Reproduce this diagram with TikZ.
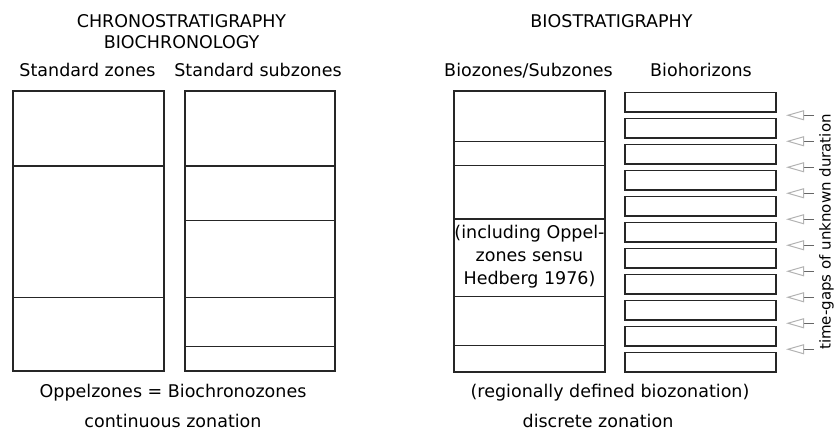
\documentclass[tikz,border=0pt]{standalone}
\usepackage{fontspec}
\setmainfont{DejaVu Sans}
\usetikzlibrary{arrows.meta}
\begin{document}
\begin{tikzpicture}
[   x=1pt, y=-1pt,
    zbox/.style={draw=black!85,line width=1.3pt,minimum width=#1,minimum height=280pt,inner sep=0pt,outer sep=0pt},
    hbox/.style={draw=black!85,line width=1.3pt,minimum width=151pt,minimum height=19.5pt,inner sep=0pt,outer sep=0pt},
    zline/.style={draw=black!85,line width=1.3pt},
    ttl/.style={font=\fontsize{17.5}{23}\selectfont,anchor=base,inner sep=0pt},
    gap/.style={draw=black!60,line width=1pt,-{Triangle[open,length=18pt,width=10pt,color=black!30]}},
]
\useasboundingbox (0,0) rectangle (835,432);

%%%%%%%%%%%%%%%%%%%% HEADINGS %%%%%%%%%%%%%%%%%%%%%%%%%%%%%%%%%%%
    \node[ttl] (chrono) at (181.5,27) {CHRONOSTRATIGRAPHY};
    \node[ttl] (biochrono) at (181.5,48.5) {BIOCHRONOLOGY};
    \node[ttl] (biostrat) at (611.5,27) {BIOSTRATIGRAPHY};
    \node[ttl] (tzones) at (87.5,76) {Standard zones};
    \node[ttl] (tsub) at (258,76) {Standard subzones};
    \node[ttl] (tbio) at (528.5,76) {Biozones/Subzones};
    \node[ttl] (thor) at (701,76) {Biohorizons};


%%%%%%%%%%%%%%%%%%%% CHRONOSTRATIGRAPHY %%%%%%%%%%%%%%%%%%%%%%%%%%%%%%%%%%%
    \node[zbox=151pt] (zones) at (88.5,231) {};
    \node[zbox=150pt] (subzones) at (260,231) {};
    \foreach \y in {166,297.5}
        \draw[zline] (zones.west |- 0,\y) -- (zones.east |- 0,\y);
    \foreach \y in {166,220.5,297.5,346.5}
        \draw[zline] (subzones.west |- 0,\y) -- (subzones.east |- 0,\y);


%%%%%%%%%%%%%%%%%%%% BIOSTRATIGRAPHY %%%%%%%%%%%%%%%%%%%%%%%%%%%%%%%%%%%
    \node[zbox=151pt,minimum height=281pt] (biozones) at (529.5,231.5) {};
    \foreach \y in {141.7,165.7,219,296.5,345.7}
        \draw[zline] (biozones.west |- 0,\y) -- (biozones.east |- 0,\y);
    \node[ttl,anchor=center,align=center] (oppel) at (529.5,257)
        {(including Oppel-\\zones sensu\\Hedberg 1976)};

    \foreach \i in {0,...,10}
    {
        \node[hbox] (h\i) at (700.5,{102.25+26*\i}) {};
    }
    \foreach \i in {0,...,9}
    {
        \coordinate (s\i) at (814,{115.25+26*\i});
        \coordinate (t\i) at (786,{115.25+26*\i});
        \draw[gap] (s\i) -- (t\i);
    }
    \node[ttl,font=\fontsize{15}{18}\selectfont,rotate=90] (gaps) at (830.5,232) {time-gaps of unknown duration};


%%%%%%%%%%%%%%%%%%%% CAPTIONS %%%%%%%%%%%%%%%%%%%%%%%%%%%%%%%%%%%
    \node[ttl] (oppeleq) at (173,397) {Oppelzones = Biochronozones};
    \node[ttl] (contin) at (173,427) {continuous zonation};
    \node[ttl] (region) at (610,397) {(regionally defined biozonation)};
    \node[ttl] (discr) at (598,427) {discrete zonation};

\end{tikzpicture}
\end{document}
